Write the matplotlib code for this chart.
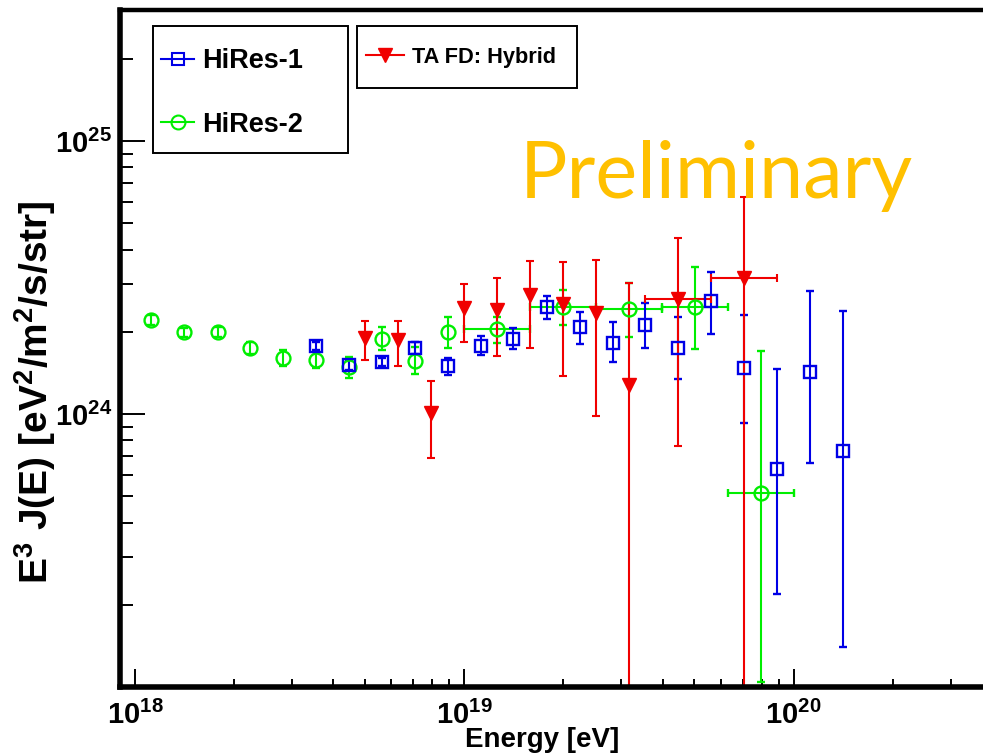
import numpy as np
import matplotlib
matplotlib.use("Agg")
import matplotlib.pyplot as plt
from matplotlib.lines import Line2D
from matplotlib.patches import Rectangle
from matplotlib.ticker import LogLocator, NullFormatter, FixedLocator

plt.rcParams['font.family'] = ['Liberation Sans', 'DejaVu Sans']
plt.rcParams['mathtext.fontset'] = 'custom'
plt.rcParams['mathtext.rm'] = 'Liberation Sans:bold'
plt.rcParams['mathtext.it'] = 'Liberation Sans:bold'
plt.rcParams['mathtext.bf'] = 'Liberation Sans:bold'
plt.rcParams['mathtext.default'] = 'bf'

# HiRes-1 : energy [eV], E^3 J(E), lower / upper end of error bar
hires1_e = np.array([3.55e18, 4.47e18, 5.62e18, 7.08e18, 8.91e18, 1.12e19, 1.41e19, 1.78e19,
                     2.24e19, 2.82e19, 3.55e19, 4.47e19, 5.62e19, 7.08e19, 8.91e19, 1.12e20, 1.41e20])
hires1_j = np.array([1.77e24, 1.51e24, 1.55e24, 1.74e24, 1.50e24, 1.78e24, 1.89e24, 2.46e24,
                     2.08e24, 1.82e24, 2.12e24, 1.74e24, 2.60e24, 1.48e24, 6.31e23, 1.43e24, 7.29e23])
hires1_lo = np.array([1.72e24, 1.45e24, 1.50e24, 1.66e24, 1.39e24, 1.64e24, 1.73e24, 2.22e24,
                      1.80e24, 1.55e24, 1.75e24, 1.34e24, 1.96e24, 9.3e23, 2.19e23, 6.64e23, 1.40e23])
hires1_hi = np.array([1.83e24, 1.58e24, 1.60e24, 1.83e24, 1.61e24, 1.93e24, 2.06e24, 2.71e24,
                      2.37e24, 2.17e24, 2.56e24, 2.26e24, 3.32e24, 2.31e24, 1.46e24, 2.82e24, 2.38e24])

# HiRes-2
hires2_e = np.array([1.12e18, 1.41e18, 1.78e18, 2.24e18, 2.82e18, 3.55e18, 4.47e18, 5.62e18,
                     7.08e18, 8.91e18, 1.26e19, 2.00e19, 3.16e19, 5.01e19, 7.94e19])
hires2_j = np.array([2.21e24, 1.99e24, 2.00e24, 1.75e24, 1.61e24, 1.58e24, 1.49e24, 1.88e24,
                     1.57e24, 1.99e24, 2.04e24, 2.47e24, 2.43e24, 2.47e24, 5.15e23])
hires2_lo = np.array([2.12e24, 1.91e24, 1.92e24, 1.66e24, 1.50e24, 1.47e24, 1.36e24, 1.71e24,
                      1.40e24, 1.75e24, 1.82e24, 2.12e24, 1.92e24, 1.73e24, 1.04e23])
hires2_hi = np.array([2.30e24, 2.07e24, 2.08e24, 1.84e24, 1.71e24, 1.69e24, 1.62e24, 2.08e24,
                      1.76e24, 2.26e24, 2.26e24, 2.84e24, 3.03e24, 3.47e24, 1.70e24])
# bin edges of the last five (wide) HiRes-2 bins
hires2_edges = np.array([1.0e19, 1.58e19, 2.51e19, 3.98e19, 6.31e19, 1.0e20])

# TA FD: Hybrid
ta_e = np.array([5.01e18, 6.31e18, 7.94e18, 1.0e19, 1.26e19, 1.58e19, 2.0e19, 2.51e19,
                 3.16e19, 4.47e19, 7.08e19])
ta_j = np.array([1.90e24, 1.87e24, 1.01e24, 2.44e24, 2.40e24, 2.73e24, 2.53e24, 2.35e24,
                 1.28e24, 2.63e24, 3.14e24])
ta_lo = np.array([1.58e24, 1.50e24, 6.89e23, 1.83e24, 1.63e24, 1.74e24, 1.38e24, 9.86e23,
                  1.0e23, 7.66e23, 1.0e23])
ta_hi = np.array([2.20e24, 2.20e24, 1.32e24, 2.99e24, 3.14e24, 3.65e24, 3.61e24, 3.66e24,
                  3.03e24, 4.43e24, 6.22e24])
# bin edges of the last two TA bins
ta_edges = np.array([3.55e19, 5.62e19, 8.91e19])

blue = '#0000e6'
green = '#00ee00'
red = '#f00000'

W, H = 983, 755
fig = plt.figure(figsize=(W / 100, H / 100), dpi=100)
ax = fig.add_axes([120/W, 68/H, 904/W, 677/H])
ax.set_xscale('log')
ax.set_yscale('log')
ax.set_xlim(9.0e17, 5.01e20)
ax.set_ylim(1e23, 3.02e25)

ekw = dict(linestyle='none', elinewidth=1.5, capsize=3, capthick=1.5)

# HiRes-2 narrow bins
n = len(hires2_e) - (len(hires2_edges) - 1)
ax.errorbar(hires2_e[:n], hires2_j[:n],
            yerr=[hires2_j[:n] - hires2_lo[:n], hires2_hi[:n] - hires2_j[:n]],
            fmt='o', ms=10, mfc='none', mec=green, mew=1.7, ecolor=green, **ekw)
# HiRes-2 wide bins
ax.errorbar(hires2_e[n:], hires2_j[n:],
            xerr=[hires2_e[n:] - hires2_edges[:-1], hires2_edges[1:] - hires2_e[n:]],
            yerr=[hires2_j[n:] - hires2_lo[n:], hires2_hi[n:] - hires2_j[n:]],
            fmt='o', ms=10, mfc='none', mec=green, mew=1.7, ecolor=green, **ekw)

ax.errorbar(hires1_e, hires1_j, yerr=[hires1_j - hires1_lo, hires1_hi - hires1_j],
            fmt='s', ms=9, mfc='none', mec=blue, mew=1.7, ecolor=blue, **ekw)

m = len(ta_e) - (len(ta_edges) - 1)
ax.errorbar(ta_e[:m], ta_j[:m], yerr=[ta_j[:m] - ta_lo[:m], ta_hi[:m] - ta_j[:m]],
            fmt='v', ms=10, color=red, ecolor=red, **ekw)
ax.errorbar(ta_e[m:], ta_j[m:],
            xerr=[ta_e[m:] - ta_edges[:-1], ta_edges[1:] - ta_e[m:]],
            yerr=[ta_j[m:] - ta_lo[m:], ta_hi[m:] - ta_j[m:]],
            fmt='v', ms=10, color=red, ecolor=red, **ekw)

# axes styling
for s in ['left', 'bottom']:
    ax.spines[s].set_linewidth(4)
ax.spines['top'].set_linewidth(3.2)
ax.spines['right'].set_linewidth(3.2)

ax.xaxis.set_major_locator(FixedLocator([1e18, 1e19, 1e20]))
ax.set_xticklabels([r'$10^{18}$', r'$10^{19}$', r'$10^{20}$'])
ax.xaxis.set_minor_locator(LogLocator(base=10, subs=np.arange(2, 10), numticks=20))
ax.xaxis.set_minor_formatter(NullFormatter())
ax.yaxis.set_major_locator(FixedLocator([1e24, 1e25]))
ax.set_yticklabels([r'$10^{24}$', r'$10^{25}$'])
ax.yaxis.set_minor_locator(LogLocator(base=10, subs=np.arange(2, 10), numticks=20))
ax.yaxis.set_minor_formatter(NullFormatter())

ax.tick_params(which='both', direction='in', top=False, right=False, width=1.4, colors='black')
ax.tick_params(axis='x', which='major', length=13, labelsize=21, pad=10)
ax.tick_params(axis='x', which='minor', length=6)
ax.tick_params(axis='y', which='major', length=18, labelsize=21, pad=6)
ax.tick_params(axis='y', which='minor', length=9)

ax.set_xlabel('Energy [eV]', fontsize=20, fontweight='bold')
ax.xaxis.set_label_coords(0.467, -0.059)
ax.set_ylabel(r'$E^{3}\ J(E)\ [eV^{2}/m^{2}/s/str]$', fontsize=28)
ax.yaxis.set_label_coords(-0.0685, 0.4357)

# legend boxes (frames drawn separately so their size matches the original)
fig.patches.append(Rectangle((153/W, 1 - 153/H), 195/W, 127/H, transform=fig.transFigure,
                             fill=False, edgecolor='black', linewidth=1.4))
fig.patches.append(Rectangle((357/W, 1 - 88/H), 220/W, 62/H, transform=fig.transFigure,
                             fill=False, edgecolor='black', linewidth=1.4))

h1 = Line2D([], [], color=blue, lw=1.5, marker='s', ms=9, mfc='none', mec=blue, mew=1.5)
h2 = Line2D([], [], color=green, lw=1.5, marker='o', ms=10, mfc='none', mec=green, mew=1.5)
h3 = Line2D([], [], color=red, lw=1.5, marker='v', ms=10)

leg1 = fig.legend([h1, h2], ['HiRes-1', 'HiRes-2'], loc='center left',
                  bbox_to_anchor=(161/W, 1 - 93/H), frameon=False, numpoints=1,
                  prop=dict(weight='bold', size=19.5), handlelength=1.22,
                  handletextpad=0.3, labelspacing=1.39, borderpad=0, borderaxespad=0)

leg2 = fig.legend([h3], ['TA FD: Hybrid'], loc='center left',
                  bbox_to_anchor=(366/W, 1 - 57/H), frameon=False, numpoints=1,
                  prop=dict(weight='bold', size=15.7), handlelength=1.75,
                  handletextpad=0.37, borderpad=0, borderaxespad=0)

fig.text(520/W, 1 - 198/H, 'Preliminary', color='#FFC000', fontsize=57,
         family=['Lato', 'DejaVu Sans'], ha='left', va='baseline')

fig.savefig('out.png', dpi=100)
